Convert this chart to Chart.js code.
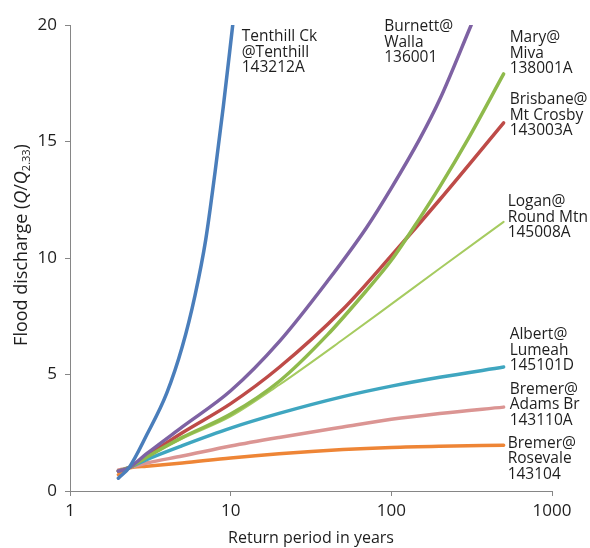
<!DOCTYPE html>
<html>
<head>
<meta charset="utf-8">
<script src="https://cdn.jsdelivr.net/npm/chart.js@4"></script>
<style>
  html, body { margin: 0; padding: 0; background: #fff; }
  #wrap { width: 590px; height: 548px; }
</style>
</head>
<body>
<div id="wrap"><canvas id="floodChart" width="590" height="548"></canvas></div>
<script>
// return periods (years) and flood discharge Q/Q2.33
const periodsTenthill = [2, 2.33, 3, 4, 5, 6, 7, 8, 9, 10.3];
const qTenthill = [0.55, 1.0, 2.4, 4.2, 6.2, 8.4, 10.8, 13.7, 16.5, 20];

const periodsBurnett = [2, 2.33, 3, 5, 10, 20, 40, 70, 100, 150, 200, 314];
const qBurnett = [0.85, 1.0, 1.6, 2.75, 4.3, 6.4, 9.0, 11.3, 13.0, 15.1, 16.8, 20];

const periodsMary = [2, 2.33, 3, 5, 10, 20, 40, 70, 100, 150, 200, 300, 500];
const qMary = [0.85, 1.0, 1.45, 2.3, 3.3, 4.7, 6.7, 8.6, 9.9, 11.7, 13.05, 15.1, 17.9];

const periodsBrisbane = [2, 2.33, 3, 5, 10, 20, 50, 100, 200, 500];
const qBrisbane = [0.85, 1.0, 1.5, 2.5, 3.75, 5.3, 7.8, 10.1, 12.5, 15.8];

const periodsLogan = [2, 2.33, 3, 5, 10, 20, 50, 100, 200, 500];
const qLogan = [0.85, 1.0, 1.45, 2.25, 3.2, 4.55, 6.5, 8.02, 9.55, 11.55];

const periodsAlbert = [2, 2.33, 3, 5, 10, 20, 50, 100, 200, 500];
const qAlbert = [0.85, 1.0, 1.35, 1.95, 2.7, 3.33, 4.05, 4.5, 4.88, 5.32];

const periodsAdams = [2, 2.33, 3, 5, 10, 20, 50, 100, 200, 500];
const qAdams = [0.9, 1.0, 1.2, 1.5, 1.93, 2.3, 2.75, 3.08, 3.33, 3.6];

const periodsRosevale = [2, 2.33, 3, 5, 10, 20, 50, 100, 200, 500];
const qRosevale = [0.7, 0.98, 1.06, 1.2, 1.42, 1.6, 1.78, 1.87, 1.92, 1.96];

const stationLabels = [
    ['Tenthill Ck', '@Tenthill', '143212A'],
    ['Burnett@', 'Walla', '136001'],
    ['Mary@', 'Miva', '138001A'],
    ['Brisbane@', 'Mt Crosby', '143003A'],
    ['Logan@', 'Round Mtn', '145008A'],
    ['Albert@', 'Lumeah', '145101D'],
    ['Bremer@', 'Adams Br', '143110A'],
    ['Bremer@', 'Rosevale', '143104']
];

const xTicks = [1, 10, 100, 1000];

// line styles and label offsets (px from the curve's last point)
const lineColors = ['#4A7EBB', '#7E62A3', '#8FBA4C', '#BE4B48', '#A6CB60', '#3FA6C0', '#DB9593', '#EE8536'];
const lineWidths = [3.5, 3.5, 3.5, 3.5, 2, 3.5, 3.5, 3.5];
const labelOffsets = [[9, 12], [-87, 2], [6, -36], [6, -23], [4, -20], [6, -32], [6, -18], [4, -2]];

const series = [
    [periodsTenthill, qTenthill],
    [periodsBurnett, qBurnett],
    [periodsMary, qMary],
    [periodsBrisbane, qBrisbane],
    [periodsLogan, qLogan],
    [periodsAlbert, qAlbert],
    [periodsAdams, qAdams],
    [periodsRosevale, qRosevale]
];

const datasets = series.map((s, i) => ({
    label: stationLabels[i].join(' '),
    data: s[0].map((p, j) => ({ x: p, y: s[1][j] })),
    borderColor: lineColors[i],
    borderWidth: lineWidths[i],
    pointRadius: 0,
    fill: false,
    cubicInterpolationMode: 'monotone',
    borderCapStyle: 'round'
}));

const FONT = '"Open Sans", "Liberation Sans", sans-serif';

// station names drawn next to the end of each curve
const endLabels = {
    id: 'endLabels',
    afterDatasetsDraw(chart) {
        const ctx = chart.ctx;
        ctx.save();
        ctx.font = '15.5px ' + FONT;
        ctx.fillStyle = '#1e1e1e';
        ctx.textAlign = 'left';
        ctx.textBaseline = 'middle';
        chart.data.datasets.forEach((ds, i) => {
            const pts = chart.getDatasetMeta(i).data;
            const last = pts[pts.length - 1];
            const off = labelOffsets[i];
            stationLabels[i].forEach((line, k) => {
                ctx.fillText(line, last.x + off[0], last.y + off[1] + k * 15.5);
            });
        });
        ctx.restore();
    }
};

// y axis title with italic Q and subscript 2.33
const yTitle = {
    id: 'yTitle',
    afterDraw(chart) {
        const ctx = chart.ctx;
        const parts = [
            { t: 'Flood discharge (', f: '18px ' + FONT, dy: 0 },
            { t: 'Q', f: 'italic 18px ' + FONT, dy: 0 },
            { t: '/', f: '18px ' + FONT, dy: 0 },
            { t: 'Q', f: 'italic 18px ' + FONT, dy: 0 },
            { t: '2.33', f: '11px ' + FONT, dy: 5 },
            { t: ')', f: '18px ' + FONT, dy: 0 }
        ];
        let total = 0;
        parts.forEach(p => { ctx.font = p.f; p.w = ctx.measureText(p.t).width; total += p.w; });
        ctx.save();
        ctx.translate(22, 245);
        ctx.rotate(-Math.PI / 2);
        ctx.fillStyle = '#1e1e1e';
        ctx.textBaseline = 'middle';
        ctx.textAlign = 'left';
        let x = -total / 2;
        parts.forEach(p => {
            ctx.font = p.f;
            ctx.fillText(p.t, x, p.dy);
            x += p.w;
        });
        ctx.restore();
    }
};

new Chart(document.getElementById('floodChart'), {
    type: 'line',
    data: { datasets: datasets },
    options: {
        responsive: false,
        animation: false,
        layout: { padding: { left: 0, right: 38, top: 25, bottom: 0 } },
        plugins: {
            legend: { display: false },
            tooltip: { enabled: false }
        },
        scales: {
            x: {
                type: 'logarithmic',
                min: 1,
                max: 1000,
                afterBuildTicks: function(scale) {
                    scale.ticks = xTicks.map(v => ({ value: v }));
                },
                afterFit: function(scale) { scale.height = 57; },
                ticks: {
                    autoSkip: false,
                    maxRotation: 0,
                    padding: 5,
                    color: '#1e1e1e',
                    font: { family: FONT, size: 17 },
                    callback: function(value) { return String(value); }
                },
                grid: { drawOnChartArea: false, tickLength: 5, color: '#868686' },
                border: { color: '#868686', width: 1 },
                title: {
                    display: true,
                    text: 'Return period in years',
                    color: '#1e1e1e',
                    font: { family: FONT, size: 16 },
                    padding: { top: 0, bottom: 0 }
                }
            },
            y: {
                min: 0,
                max: 20,
                afterFit: function(scale) { scale.width = 70; },
                ticks: {
                    stepSize: 5,
                    padding: 8,
                    color: '#1e1e1e',
                    font: { family: FONT, size: 17 }
                },
                grid: { drawOnChartArea: false, tickLength: 5, color: '#868686' },
                border: { color: '#868686', width: 1 }
            }
        }
    },
    plugins: [endLabels, yTitle]
});
</script>
</body>
</html>
